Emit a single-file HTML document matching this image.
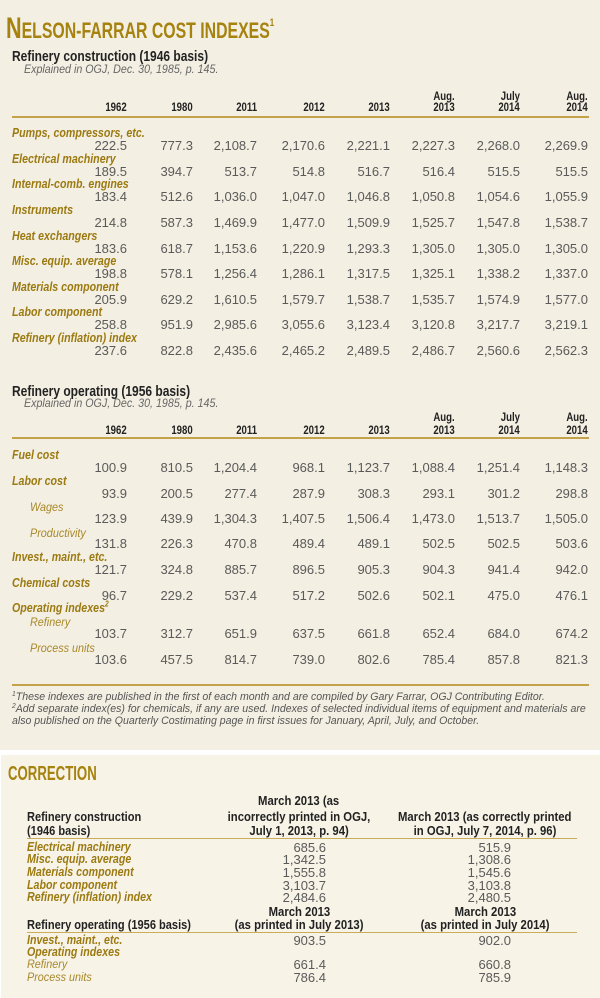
<!DOCTYPE html>
<html><head><meta charset="utf-8"><style>
*{margin:0;padding:0}
body{width:600px;height:998px;background:#fff;position:relative;overflow:hidden;font-family:"Liberation Sans",sans-serif}
.p1{position:absolute;left:0;top:0;width:600px;height:750px;background:#f3efe2}
.p2{position:absolute;left:1px;top:755px;width:599px;height:243px;background:#f7f3e7}
.a{position:absolute;white-space:nowrap;height:16px;line-height:16px}
.cx{display:inline-block;transform-origin:left center}
.lbl{left:12px;color:#9c7a12;font-weight:bold;font-style:italic;font-size:13px}
.lbl .cx{transform:scaleX(.82)}
.sub{left:30px;color:#a8882a;font-style:italic;font-size:12px}
.sub .cx{transform:scaleX(.9)}
.v{position:absolute;left:0;width:600px;height:16px;line-height:16px;font-size:13px;color:#5a5a5a}
.v span{position:absolute;top:0}
.h{position:absolute;left:0;width:600px;height:14px;line-height:14px;font-size:12px;font-weight:bold;color:#222}
.h span{position:absolute;top:0;display:inline-block;transform:scaleX(.8);transform-origin:right center}
.c1{right:473px}.c2{right:407px}.c3{right:343px}.c4{right:275px}.c5{right:210px}.c6{right:145px}.c7{right:80px}.c8{right:12px}
.rule{position:absolute;left:12px;width:577px;height:2px;background:#c4a24a}
.tt{left:12px;font-weight:bold;font-size:15px;color:#222}
.tt .cx{transform:scaleX(.8)}
.ex{left:24px;font-style:italic;font-size:11.5px;color:#666}
.fn{left:12px;font-style:italic;font-size:11px;color:#555;height:12px;line-height:12px}
.fn .cx{transform:scaleX(.96)}
.fn sup{font-size:7px;line-height:0;vertical-align:4px}
.ch{font-weight:bold;font-size:13px;color:#222;height:14px;line-height:14px}
.cc{position:absolute;width:300px;text-align:center}
.cc .cx{transform:scaleX(.87);transform-origin:center center}
.cv{position:absolute;font-size:13px;color:#5a5a5a;height:13px;line-height:13px;text-align:right;width:100px}
</style></head><body>
<div class="p1"></div>
<div class="p2"></div>

<div class="a" style="left:6px;top:8px;height:30px;line-height:30px;color:#a6820f;font-weight:bold"><span class="cx" style="transform:scaleX(.72)"><span style="font-size:30px">N</span><span style="font-size:22px">ELSON-FARRAR COST INDEXES</span><sup style="font-size:11px;vertical-align:12px">1</sup></span></div>

<div class="a tt" style="top:49px"><span class="cx">Refinery construction (1946 basis)</span></div>
<div class="a ex" style="top:62px"><span class="cx" style="transform:scaleX(.93)">Explained in OGJ, Dec. 30, 1985, p. 145.</span></div>
<div class="h" style="top:89px"><span class="c6">Aug.</span><span class="c7">July</span><span class="c8">Aug.</span></div>
<div class="h" style="top:100px"><span class="c1">1962</span><span class="c2">1980</span><span class="c3">2011</span><span class="c4">2012</span><span class="c5">2013</span><span class="c6">2013</span><span class="c7">2014</span><span class="c8">2014</span></div>
<div class="rule" style="top:116px"></div>

<div class="a lbl" style="top:125px"><span class="cx">Pumps, compressors, etc.</span></div>
<div class="v" style="top:138px"><span class="c1">222.5</span><span class="c2">777.3</span><span class="c3">2,108.7</span><span class="c4">2,170.6</span><span class="c5">2,221.1</span><span class="c6">2,227.3</span><span class="c7">2,268.0</span><span class="c8">2,269.9</span></div>
<div class="a lbl" style="top:151px"><span class="cx">Electrical machinery</span></div>
<div class="v" style="top:164px"><span class="c1">189.5</span><span class="c2">394.7</span><span class="c3">513.7</span><span class="c4">514.8</span><span class="c5">516.7</span><span class="c6">516.4</span><span class="c7">515.5</span><span class="c8">515.5</span></div>
<div class="a lbl" style="top:176px"><span class="cx">Internal-comb. engines</span></div>
<div class="v" style="top:189px"><span class="c1">183.4</span><span class="c2">512.6</span><span class="c3">1,036.0</span><span class="c4">1,047.0</span><span class="c5">1,046.8</span><span class="c6">1,050.8</span><span class="c7">1,054.6</span><span class="c8">1,055.9</span></div>
<div class="a lbl" style="top:202px"><span class="cx">Instruments</span></div>
<div class="v" style="top:215px"><span class="c1">214.8</span><span class="c2">587.3</span><span class="c3">1,469.9</span><span class="c4">1,477.0</span><span class="c5">1,509.9</span><span class="c6">1,525.7</span><span class="c7">1,547.8</span><span class="c8">1,538.7</span></div>
<div class="a lbl" style="top:228px"><span class="cx">Heat exchangers</span></div>
<div class="v" style="top:241px"><span class="c1">183.6</span><span class="c2">618.7</span><span class="c3">1,153.6</span><span class="c4">1,220.9</span><span class="c5">1,293.3</span><span class="c6">1,305.0</span><span class="c7">1,305.0</span><span class="c8">1,305.0</span></div>
<div class="a lbl" style="top:253px"><span class="cx">Misc. equip. average</span></div>
<div class="v" style="top:266px"><span class="c1">198.8</span><span class="c2">578.1</span><span class="c3">1,256.4</span><span class="c4">1,286.1</span><span class="c5">1,317.5</span><span class="c6">1,325.1</span><span class="c7">1,338.2</span><span class="c8">1,337.0</span></div>
<div class="a lbl" style="top:279px"><span class="cx">Materials component</span></div>
<div class="v" style="top:292px"><span class="c1">205.9</span><span class="c2">629.2</span><span class="c3">1,610.5</span><span class="c4">1,579.7</span><span class="c5">1,538.7</span><span class="c6">1,535.7</span><span class="c7">1,574.9</span><span class="c8">1,577.0</span></div>
<div class="a lbl" style="top:304px"><span class="cx">Labor component</span></div>
<div class="v" style="top:317px"><span class="c1">258.8</span><span class="c2">951.9</span><span class="c3">2,985.6</span><span class="c4">3,055.6</span><span class="c5">3,123.4</span><span class="c6">3,120.8</span><span class="c7">3,217.7</span><span class="c8">3,219.1</span></div>
<div class="a lbl" style="top:330px"><span class="cx">Refinery (inflation) index</span></div>
<div class="v" style="top:343px"><span class="c1">237.6</span><span class="c2">822.8</span><span class="c3">2,435.6</span><span class="c4">2,465.2</span><span class="c5">2,489.5</span><span class="c6">2,486.7</span><span class="c7">2,560.6</span><span class="c8">2,562.3</span></div>

<div class="a tt" style="top:384px"><span class="cx">Refinery operating (1956 basis)</span></div>
<div class="a ex" style="top:396px"><span class="cx" style="transform:scaleX(.93)">Explained in OGJ, Dec. 30, 1985, p. 145.</span></div>
<div class="h" style="top:410px"><span class="c6">Aug.</span><span class="c7">July</span><span class="c8">Aug.</span></div>
<div class="h" style="top:423px"><span class="c1">1962</span><span class="c2">1980</span><span class="c3">2011</span><span class="c4">2012</span><span class="c5">2013</span><span class="c6">2013</span><span class="c7">2014</span><span class="c8">2014</span></div>
<div class="rule" style="top:437px"></div>

<div class="a lbl" style="top:447px"><span class="cx">Fuel cost</span></div>
<div class="v" style="top:460px"><span class="c1">100.9</span><span class="c2">810.5</span><span class="c3">1,204.4</span><span class="c4">968.1</span><span class="c5">1,123.7</span><span class="c6">1,088.4</span><span class="c7">1,251.4</span><span class="c8">1,148.3</span></div>
<div class="a lbl" style="top:473px"><span class="cx">Labor cost</span></div>
<div class="v" style="top:486px"><span class="c1">93.9</span><span class="c2">200.5</span><span class="c3">277.4</span><span class="c4">287.9</span><span class="c5">308.3</span><span class="c6">293.1</span><span class="c7">301.2</span><span class="c8">298.8</span></div>
<div class="a sub" style="top:499px"><span class="cx">Wages</span></div>
<div class="v" style="top:511px"><span class="c1">123.9</span><span class="c2">439.9</span><span class="c3">1,304.3</span><span class="c4">1,407.5</span><span class="c5">1,506.4</span><span class="c6">1,473.0</span><span class="c7">1,513.7</span><span class="c8">1,505.0</span></div>
<div class="a sub" style="top:525px"><span class="cx">Productivity</span></div>
<div class="v" style="top:536px"><span class="c1">131.8</span><span class="c2">226.3</span><span class="c3">470.8</span><span class="c4">489.4</span><span class="c5">489.1</span><span class="c6">502.5</span><span class="c7">502.5</span><span class="c8">503.6</span></div>
<div class="a lbl" style="top:549px"><span class="cx">Invest., maint., etc.</span></div>
<div class="v" style="top:562px"><span class="c1">121.7</span><span class="c2">324.8</span><span class="c3">885.7</span><span class="c4">896.5</span><span class="c5">905.3</span><span class="c6">904.3</span><span class="c7">941.4</span><span class="c8">942.0</span></div>
<div class="a lbl" style="top:575px"><span class="cx">Chemical costs</span></div>
<div class="v" style="top:588px"><span class="c1">96.7</span><span class="c2">229.2</span><span class="c3">537.4</span><span class="c4">517.2</span><span class="c5">502.6</span><span class="c6">502.1</span><span class="c7">475.0</span><span class="c8">476.1</span></div>
<div class="a lbl" style="top:600px"><span class="cx">Operating indexes<sup style="font-size:8px;line-height:0">2</sup></span></div>
<div class="a sub" style="top:614px"><span class="cx">Refinery</span></div>
<div class="v" style="top:626px"><span class="c1">103.7</span><span class="c2">312.7</span><span class="c3">651.9</span><span class="c4">637.5</span><span class="c5">661.8</span><span class="c6">652.4</span><span class="c7">684.0</span><span class="c8">674.2</span></div>
<div class="a sub" style="top:640px"><span class="cx">Process units</span></div>
<div class="v" style="top:652px"><span class="c1">103.6</span><span class="c2">457.5</span><span class="c3">814.7</span><span class="c4">739.0</span><span class="c5">802.6</span><span class="c6">785.4</span><span class="c7">857.8</span><span class="c8">821.3</span></div>
<div class="rule" style="top:684px"></div>

<div class="a fn" style="top:691px"><span class="cx"><sup>1</sup>These indexes are published in the first of each month and are compiled by Gary Farrar, OGJ Contributing Editor.</span></div>
<div class="a fn" style="top:703px"><span class="cx"><sup>2</sup>Add separate index(es) for chemicals, if any are used. Indexes of selected individual items of equipment and materials are</span></div>
<div class="a fn" style="top:715px"><span class="cx">also published on the Quarterly Costimating page in first issues for January, April, July, and October.</span></div>

<div class="a" style="left:8px;top:762px;height:24px;line-height:24px;color:#a6820f;font-weight:bold;font-size:20px"><span class="cx" style="transform:scaleX(.66)">CORRECTION</span></div>

<div class="a ch" style="left:27px;top:810px"><span class="cx" style="transform:scaleX(.85)">Refinery construction</span></div>
<div class="a ch" style="left:27px;top:824px"><span class="cx" style="transform:scaleX(.85)">(1946 basis)</span></div>
<div class="a ch cc" style="left:149px;top:794px"><span class="cx">March 2013 (as</span></div>
<div class="a ch cc" style="left:149px;top:810px"><span class="cx">incorrectly printed in OGJ,</span></div>
<div class="a ch cc" style="left:149px;top:824px"><span class="cx">July 1, 2013, p. 94)</span></div>
<div class="a ch cc" style="left:335px;top:810px"><span class="cx">March 2013 (as correctly printed</span></div>
<div class="a ch cc" style="left:335px;top:824px"><span class="cx">in OGJ, July 7, 2014, p. 96)</span></div>
<div style="position:absolute;left:27px;top:838px;width:550px;height:1px;background:#c9ad5c"></div>

<div class="a lbl" style="left:27px;top:840px;height:14px;line-height:14px"><span class="cx">Electrical machinery</span></div>
<div class="a lbl" style="left:27px;top:852px;height:14px;line-height:14px"><span class="cx">Misc. equip. average</span></div>
<div class="a lbl" style="left:27px;top:865px;height:14px;line-height:14px"><span class="cx">Materials component</span></div>
<div class="a lbl" style="left:27px;top:878px;height:14px;line-height:14px"><span class="cx">Labor component</span></div>
<div class="a lbl" style="left:27px;top:890px;height:14px;line-height:14px"><span class="cx">Refinery (inflation) index</span></div>
<div class="cv" style="left:226px;top:841px">685.6</div><div class="cv" style="left:411px;top:841px">515.9</div>
<div class="cv" style="left:226px;top:853px">1,342.5</div><div class="cv" style="left:411px;top:853px">1,308.6</div>
<div class="cv" style="left:226px;top:866px">1,555.8</div><div class="cv" style="left:411px;top:866px">1,545.6</div>
<div class="cv" style="left:226px;top:879px">3,103.7</div><div class="cv" style="left:411px;top:879px">3,103.8</div>
<div class="cv" style="left:226px;top:891px">2,484.6</div><div class="cv" style="left:411px;top:891px">2,480.5</div>

<div class="a ch cc" style="left:149px;top:905px"><span class="cx">March 2013</span></div>
<div class="a ch cc" style="left:149px;top:918px"><span class="cx">(as printed in July 2013)</span></div>
<div class="a ch cc" style="left:335px;top:905px"><span class="cx">March 2013</span></div>
<div class="a ch cc" style="left:335px;top:918px"><span class="cx">(as printed in July 2014)</span></div>
<div class="a ch" style="left:27px;top:918px"><span class="cx" style="transform:scaleX(.85)">Refinery operating (1956 basis)</span></div>
<div style="position:absolute;left:27px;top:932px;width:550px;height:1px;background:#c9ad5c"></div>

<div class="a lbl" style="left:27px;top:933px;height:14px;line-height:14px"><span class="cx">Invest., maint., etc.</span></div>
<div class="cv" style="left:226px;top:934px">903.5</div><div class="cv" style="left:411px;top:934px">902.0</div>
<div class="a lbl" style="left:27px;top:945px;height:14px;line-height:14px"><span class="cx">Operating indexes</span></div>
<div class="a sub" style="left:27px;top:957px;height:14px;line-height:14px"><span class="cx">Refinery</span></div>
<div class="cv" style="left:226px;top:958px">661.4</div><div class="cv" style="left:411px;top:958px">660.8</div>
<div class="a sub" style="left:27px;top:970px;height:14px;line-height:14px"><span class="cx">Process units</span></div>
<div class="cv" style="left:226px;top:971px">786.4</div><div class="cv" style="left:411px;top:971px">785.9</div>
</body></html>
